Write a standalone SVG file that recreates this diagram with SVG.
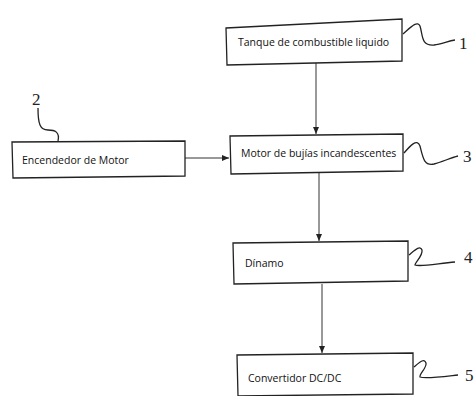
<svg xmlns="http://www.w3.org/2000/svg" width="475" height="396" viewBox="0 0 475 396">
<style>
.box{fill:#fff;stroke:#222;stroke-width:1.3}
.t{font-family:"Open Sans","Liberation Sans",sans-serif;font-size:10.5px;fill:#111}
.n{font-family:"Liberation Serif",serif;font-size:17px;fill:#222}
.c{fill:none;stroke:#333;stroke-width:1}
.sq{fill:none;stroke:#222;stroke-width:1.3}
</style>
<defs>
<marker id="a" markerWidth="8" markerHeight="8" refX="7" refY="4" orient="auto" markerUnits="userSpaceOnUse">
<path d="M0,1 L7,4 L0,7 Z" fill="#222"/>
</marker>
</defs>
<rect width="475" height="396" fill="#fff"/>
<g id="connectors">
<line class="c" x1="316" y1="63" x2="316" y2="134" marker-end="url(#a)"/>
<line class="c" x1="185" y1="158" x2="229" y2="158" marker-end="url(#a)"/>
<line class="c" x1="319" y1="173" x2="319" y2="241" marker-end="url(#a)"/>
<line class="c" x1="322" y1="284" x2="322" y2="353" marker-end="url(#a)"/>
</g>
<g id="n1">
<polygon class="box" points="226,28 402,19 402,61 227,65"/>
<text class="t" x="238" y="46">Tanque de combustible liquido</text>
<path class="sq" d="M403,34 C410,28 417,20 420,26 C423,36 421,46 434,45 C442,44 448,41 455,40"/>
<text class="n" x="459" y="49">1</text>
</g>
<g id="n2">
<polygon class="box" points="12,142 185,141 185,176 13,178"/>
<text class="t" x="22" y="164">Encendedor de Motor</text>
<path class="sq" d="M58,141 C60,132 55,130 48,130 C40,130 38,124 38,108"/>
<text class="n" x="32" y="105">2</text>
</g>
<g id="n3">
<polygon class="box" points="230,136 403,134 403,171 231,174"/>
<text class="t" x="241" y="157">Motor de bujías incandescentes</text>
<path class="sq" d="M404,153 C410,146 417,138 420,146 C423,158 424,166 434,164 C442,162 450,158 458,156"/>
<text class="n" x="463" y="162">3</text>
</g>
<g id="n4">
<polygon class="box" points="233,243 408,241 408,281 234,284"/>
<text class="t" x="245" y="267">Dínamo</text>
<path class="sq" d="M409,255 C415,250 420,245 422,250 C423,256 415,262 415,265 C420,267 435,264 455,262"/>
<text class="n" x="464" y="263">4</text>
</g>
<g id="n5">
<polygon class="box" points="237,355 413,353 413,394 238,396"/>
<text class="t" x="248" y="382">Convertidor DC/DC</text>
<path class="sq" d="M414,367 C420,362 424,358 426,363 C427,368 419,374 420,377 C425,379 440,377 458,375"/>
<text class="n" x="465" y="381">5</text>
</g>
</svg>
